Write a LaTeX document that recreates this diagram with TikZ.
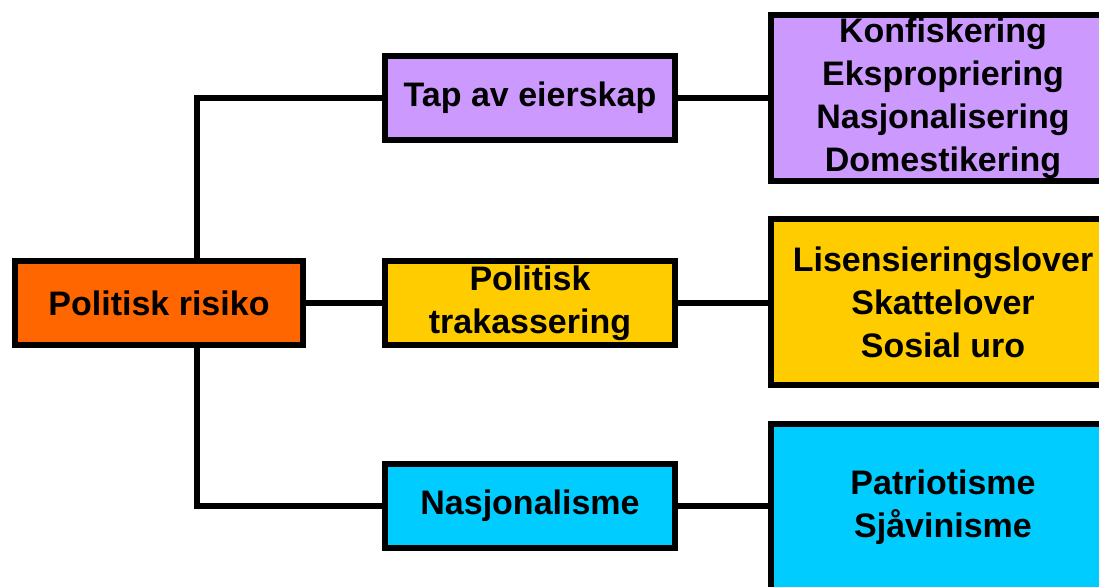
\documentclass[tikz,border=0pt]{standalone}
\usepackage{fontspec}
\setmainfont{Liberation Sans}
\definecolor{riskOrange}{HTML}{FF6600}
\definecolor{lossPurple}{HTML}{CC99FF}
\definecolor{harYellow}{HTML}{FFCC00}
\definecolor{natCyan}{HTML}{00CCFF}
\begin{document}
\begin{tikzpicture}[x=1pt, y=-1pt,
    boxStyle/.style={draw, line width=6pt, align=center, inner sep=0pt,
        font=\fontsize{34}{43}\selectfont\bfseries},
    midStyle/.style={boxStyle, minimum width=290pt, minimum height=84pt},
    bigStyle/.style={boxStyle, minimum width=344pt, minimum height=166pt},
    linkStyle/.style={line width=6pt}]
                    \clip (0, 0) rectangle (1099, 586);
                    \node[boxStyle, fill=riskOrange, minimum width=288pt, minimum height=84pt](root) at (159, 303) {Politisk risiko};
                    \node[midStyle, fill=lossPurple](tap) at (530, 98) {Tap av eierskap};
                    \node[midStyle, fill=harYellow](trak) at (530, 303) {Politisk\\trakassering};
                    \node[midStyle, fill=natCyan](nasj) at (530, 506) {Nasjonalisme};
                    \node[bigStyle, fill=lossPurple](tapList) at (943, 98) {Konfiskering\\Ekspropriering\\Nasjonalisering\\Domestikering};
                    \node[bigStyle, fill=harYellow](trakList) at (943, 302) {Lisensieringslover\\Skattelover\\Sosial uro};
                    \node[bigStyle, fill=natCyan](nasjList) at (943, 507) {Patriotisme\\Sjåvinisme};
                    \coordinate (trunk) at (197, 303);

                    \draw[linkStyle] (root.north -| trunk) |- (tap.west);
                    \draw[linkStyle] (root.east) -- (trak.west);
                    \draw[linkStyle] (root.south -| trunk) |- (nasj.west);
                    \draw[linkStyle] (tap.east) -- (tapList.west |- tap.east);
                    \draw[linkStyle] (trak.east) -- (trakList.west |- trak.east);
                    \draw[linkStyle] (nasj.east) -- (nasjList.west |- nasj.east);
                \end{tikzpicture}
\end{document}
